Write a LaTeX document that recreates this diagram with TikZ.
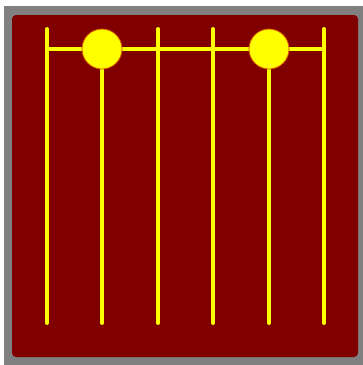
\documentclass[tikz,border=0pt]{standalone}
\usepackage{tikz}

\definecolor{panelgray}{RGB}{128,128,128}
\definecolor{boardred}{RGB}{128,0,0}
\definecolor{wireyellow}{RGB}{255,255,0}

\begin{document}
\begin{tikzpicture}[x=1pt,y=-1pt,
		wire/.style={wireyellow,line width=4pt,line cap=round}]
		
		\useasboundingbox (0,0) rectangle (363,365);
		
		%--- frame and board ---
		\fill[panelgray] (4,6) rectangle (363,365);
		\fill[boardred,rounded corners=4pt] (12,15) rectangle (358,357);
		
		% vertical wires: outer ones reach the top
		\foreach \x in {47,158,213,324}{
			\draw[wire] (\x,29) -- (\x,323);
		}
		% wires under the beads
		\foreach \x in {102,269}{
			\draw[wire] (\x,49) -- (\x,323);
		}
		
		% horizontal bar
		\draw[wire,line cap=butt] (47,49) -- (324,49);
		
		% beads
		\foreach \x in {102,269}{
			\fill[wireyellow,draw=orange!70!boardred,line width=0.8pt] (\x,49) circle (20);
		}
		
	\end{tikzpicture}
\end{document}
